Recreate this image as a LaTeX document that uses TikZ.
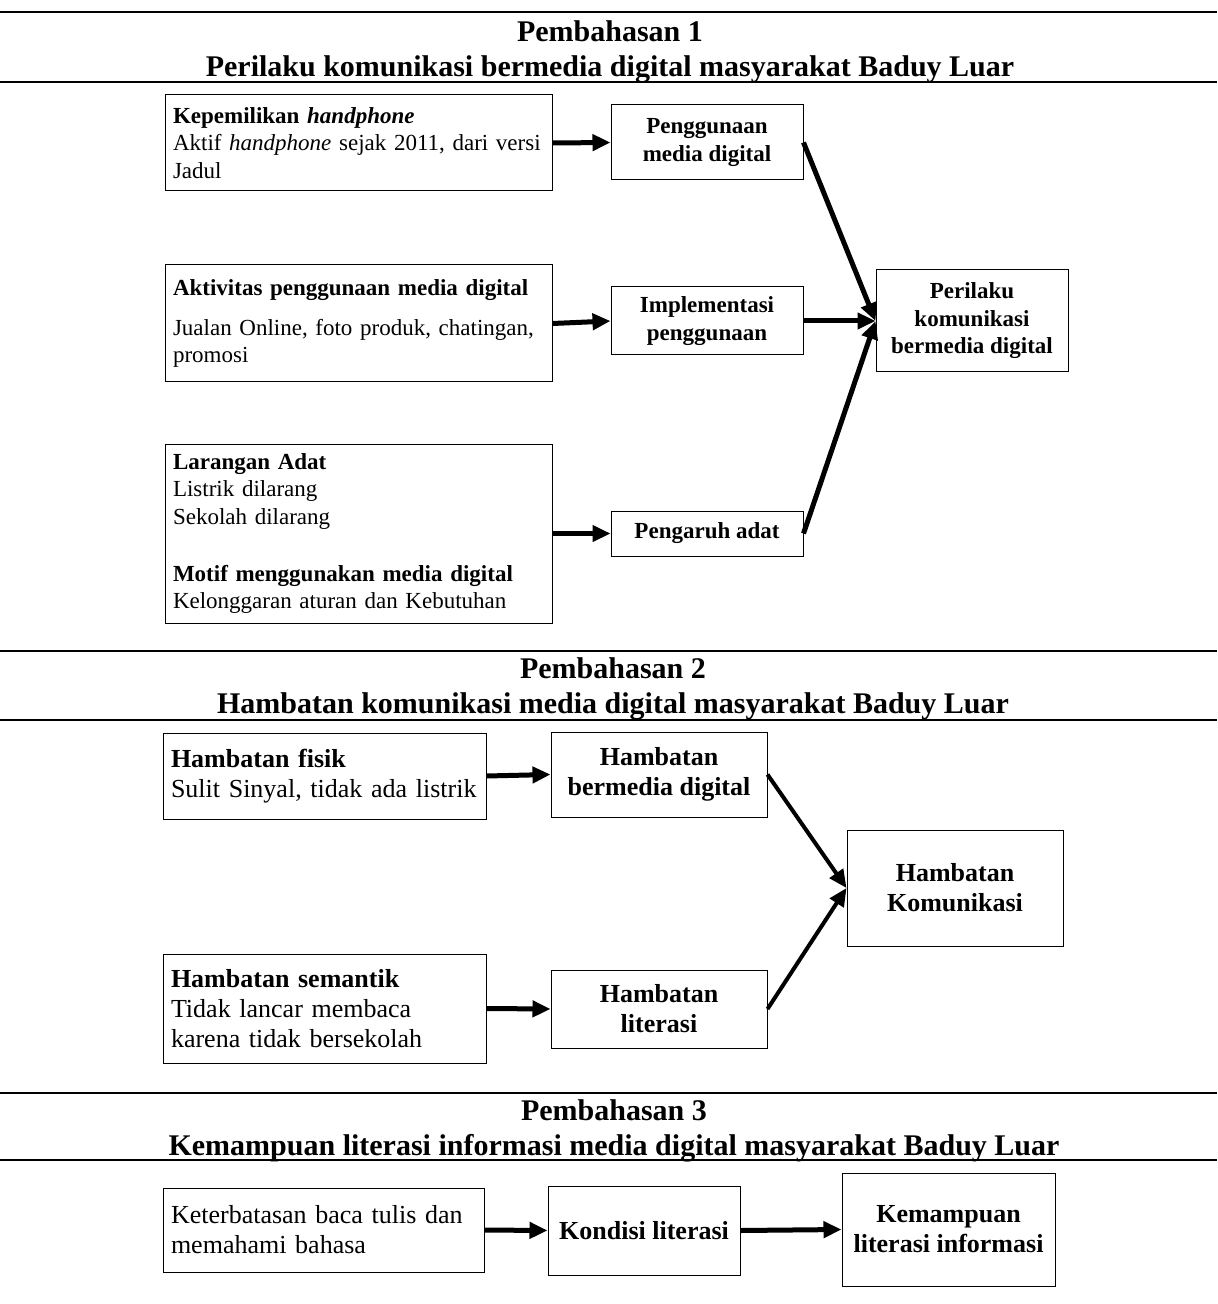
\documentclass[tikz,border=0pt]{standalone}
\usepackage{fontspec}
\setmainfont{Liberation Serif}
\usetikzlibrary{arrows.meta}

\begin{document}
\begin{tikzpicture}[x=0.5pt,y=-0.5pt,>={Triangle[length=9pt,width=8pt]},
        judul/.style={font=\fontsize{15}{17.5}\selectfont\bfseries,align=center},
        kecil/.style={font=\fontsize{11.5}{13.75}\selectfont},
        besar/.style={font=\fontsize{13}{15}\selectfont},
        isi/.style={draw,line width=0.5pt,align=left,inner xsep=4pt,inner ysep=0pt},
        kunci/.style={draw,line width=0.5pt,align=center,inner sep=0pt,execute at begin node=\bfseries},
        panah/.style={->,line width=2.5pt}]

    \useasboundingbox (0,0) rectangle (1217,1304);

    % Rules
    \foreach \y in {12,82,651,720,1093,1160}
        \draw[line width=1pt] (0,\y) -- (1217,\y);

    % Titles
    \node[judul] (T1) at (610,52) {Pembahasan 1\\Perilaku komunikasi bermedia digital masyarakat Baduy Luar};
    \node[judul] (T2) at (613,689) {Pembahasan 2\\Hambatan komunikasi media digital masyarakat Baduy Luar};
    \node[judul] (T3) at (614,1131) {Pembahasan 3\\Kemampuan literasi informasi media digital masyarakat Baduy Luar};

    % Nodes
    % First block
    \node[isi,kecil,text width=185.5pt,minimum height=48pt] (A1) at (358.5,143)
        {\textbf{Kepemilikan \textit{handphone}}\\Aktif \textit{handphone} sejak 2011, dari versi\\Jadul};
    \node[isi,kecil,text width=185.5pt,minimum height=58.5pt] (A2) at (358.5,323.5)
        {\textbf{Aktivitas penggunaan media digital}\\[6pt]Jualan Online, foto produk, chatingan,\\promosi};
    \node[isi,kecil,text width=185.5pt,minimum height=89.5pt] (A3) at (358.5,533.5)
        {\textbf{Larangan Adat}\\Listrik dilarang\\Sekolah dilarang\\[14.5pt]\textbf{Motif menggunakan media digital}\\Kelonggaran aturan dan Kebutuhan};
    \node[kunci,kecil,minimum width=96pt,minimum height=37.5pt] (P1) at (707,142.5) {Penggunaan\\media digital};
    \node[kunci,kecil,minimum width=96pt,minimum height=34pt] (P2) at (707,321) {Implementasi\\penggunaan};
    \node[kunci,kecil,minimum width=96pt,minimum height=22.5pt] (P3) at (707,533.5) {Pengaruh adat};
    \node[kunci,kecil,minimum width=96pt,minimum height=51pt] (R1) at (972,321) {Perilaku\\komunikasi\\bermedia digital};

    % Second block
    \node[isi,besar,text width=153.5pt,minimum height=43pt] (B1) at (324.5,776)
        {\textbf{Hambatan fisik}\\Sulit Sinyal, tidak ada listrik};
    \node[isi,besar,text width=153.5pt,minimum height=54.5pt] (B2) at (324.5,1008.5)
        {\textbf{Hambatan semantik}\\Tidak lancar membaca\\karena tidak bersekolah};
    \node[kunci,besar,minimum width=108pt,minimum height=42.5pt] (Q1) at (659,774.5) {Hambatan\\bermedia digital};
    \node[kunci,besar,minimum width=108pt,minimum height=39pt] (Q2) at (659,1009) {Hambatan\\literasi};
    \node[kunci,besar,minimum width=108pt,minimum height=58pt] (R2) at (955,888) {Hambatan\\Komunikasi};

    % Third block
    \node[isi,besar,text width=152.5pt,minimum height=42pt] (C1) at (323.5,1230)
        {Keterbatasan baca tulis dan\\memahami bahasa};
    \node[kunci,besar,minimum width=96pt,minimum height=44.5pt] (C2) at (644,1230.5) {Kondisi literasi};
    \node[kunci,besar,minimum width=106.5pt,minimum height=56.5pt] (C3) at (948.5,1229.5) {Kemampuan\\literasi informasi};

    % Edges
    \draw[panah] (A1.east) -- (P1.west);
    \draw[panah] (A2.east) -- (P2.west);
    \draw[panah] (A3.east) -- (P3.west);
    \draw[panah] (P1.east) -- (R1.west);
    \draw[panah] (P2.east) -- (R1.west);
    \draw[panah] (P3.east) -- (R1.west);

    \draw[panah] (B1.east) -- (Q1.west);
    \draw[panah] (B2.east) -- (Q2.west);
    \draw[panah,line width=2pt] (Q1.east) -- (R2.west);
    \draw[panah,line width=2pt] (Q2.east) -- (R2.west);

    \draw[panah] (C1.east) -- (C2.west);
    \draw[panah] (C2.east) -- (C3.west);
\end{tikzpicture}
\end{document}
